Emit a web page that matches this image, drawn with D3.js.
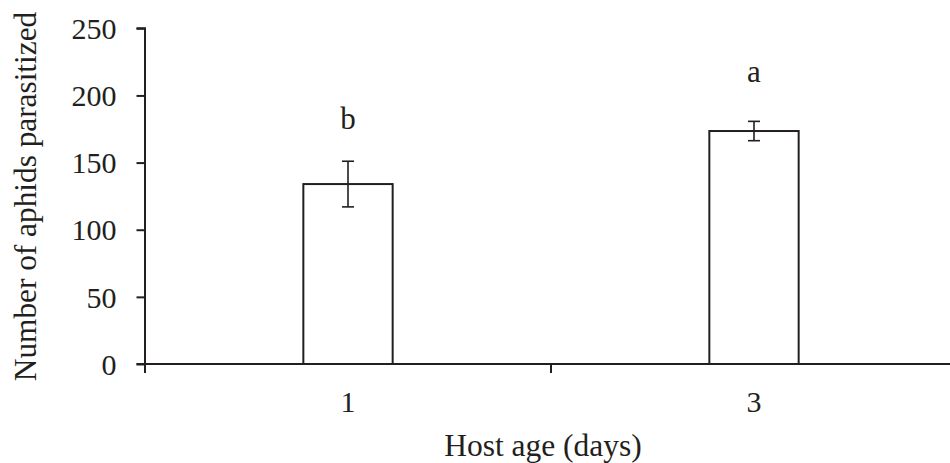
<!DOCTYPE html>
<html><head><meta charset="utf-8">
<script src="https://cdn.jsdelivr.net/npm/d3@7"></script>
<style>
html,body{margin:0;padding:0;background:#fff;}
svg{display:block;}
text{font-family:"Liberation Serif","Times New Roman",serif;fill:#231f20;}
</style></head>
<body>
<svg id="chart" width="950" height="463"></svg>
<script>
const categories = ["1", "3"];
const means = [134, 173.5];
const errors = [17, 7.2];
const letters = ["b", "a"];
const letterLevels = [175, 210];
const yTicks = [0, 50, 100, 150, 200, 250];
const xTitle = "Host age (days)";
const yTitle = "Number of aphids parasitized";

(function(){
const svg = d3.select("#chart");
const pl = 145, pr = 957, pt = 28.3, pb = 364;
const ink = "#231f20";

const x = d3.scaleBand().domain(categories).range([pl, pr]).padding(0);
const y = d3.scaleLinear().domain([0, 250]).range([pb, pt]);
const barW = x.bandwidth() * 0.22;

// bars
svg.selectAll("rect.bar").data(categories).enter().append("rect")
  .attr("class","bar")
  .attr("x", d => x(d) + x.bandwidth()/2 - barW/2)
  .attr("y", (d,i) => y(means[i]))
  .attr("width", barW)
  .attr("height", (d,i) => y(0) - y(means[i]))
  .attr("fill", "#fff").attr("stroke", ink).attr("stroke-width", 2);

// error bars
const cap = 6;
categories.forEach((c,i) => {
  const cx = x(c) + x.bandwidth()/2;
  const g = svg.append("g").attr("stroke", ink).attr("stroke-width", 1.6);
  g.append("line").attr("x1",cx).attr("x2",cx).attr("y1",y(means[i]+errors[i])).attr("y2",y(means[i]-errors[i]));
  g.append("line").attr("x1",cx-cap).attr("x2",cx+cap).attr("y1",y(means[i]+errors[i])).attr("y2",y(means[i]+errors[i]));
  g.append("line").attr("x1",cx-cap).attr("x2",cx+cap).attr("y1",y(means[i]-errors[i])).attr("y2",y(means[i]-errors[i]));
  svg.append("text").attr("x", cx).attr("y", y(letterLevels[i]))
    .attr("text-anchor","middle").attr("font-size", 31).text(letters[i]);
});

// y axis
const yAxis = d3.axisLeft(y).tickValues(yTicks).tickSize(8.5).tickPadding(20);
const gy = svg.append("g").attr("transform", `translate(${pl},0)`).call(yAxis);
gy.select(".domain").attr("stroke", ink).attr("stroke-width", 2).attr("d", `M-8.5,${pt}H0V${pb}`);
gy.selectAll(".tick line").attr("stroke", ink).attr("stroke-width", 2);
gy.selectAll(".tick text").attr("font-size", 30).attr("font-family", '"Liberation Serif","Times New Roman",serif').attr("fill", ink).attr("dy","0.34em");

// x axis
const bounds = [pl, x("3"), pr];
const gx = svg.append("g").attr("transform", `translate(0,${pb})`);
gx.append("line").attr("x1", pl - 8.5).attr("x2", pr).attr("y1",0).attr("y2",0).attr("stroke", ink).attr("stroke-width", 2);
gx.selectAll("line.bt").data(bounds).enter().append("line").attr("class","bt")
  .attr("x1", d=>d).attr("x2", d=>d).attr("y1",0).attr("y2",9).attr("stroke", ink).attr("stroke-width", 2);
gx.selectAll("text.xl").data(categories).enter().append("text").attr("class","xl")
  .attr("x", d => x(d) + x.bandwidth()/2).attr("y", 47.7)
  .attr("text-anchor","middle").attr("font-size", 30).text(d=>d);

// titles
svg.append("text").attr("x", 543).attr("y", 455.5).attr("text-anchor","middle").attr("font-size", 31.5).text(xTitle);
svg.append("text").attr("transform", `translate(36,196.5) rotate(-90)`).attr("text-anchor","middle").attr("font-size", 31.3).text(yTitle);
})();
</script>
</body></html>
